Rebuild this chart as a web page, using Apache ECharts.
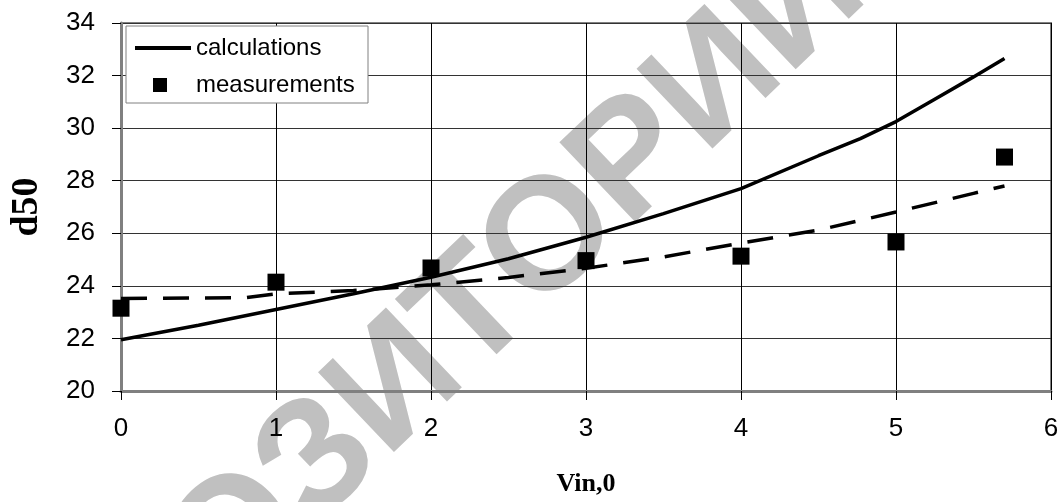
<!DOCTYPE html>
<html>
<head>
<meta charset="utf-8">
<script src="https://cdn.jsdelivr.net/npm/echarts@6/dist/echarts.min.js"></script>
<style>html,body{margin:0;padding:0;background:#fff}#c{width:1062px;height:502px}</style>
</head>
<body>
<div id="c"></div>
<script>
// ---- data ----
const calcX = [0, 0.5, 1, 1.5, 2, 2.5, 3, 3.5, 4, 4.5, 4.77, 5, 5.25, 5.5, 5.7];
const calcY = [21.95, 22.5, 23.1, 23.7, 24.33, 25.03, 25.85, 26.75, 27.7, 28.95, 29.6, 30.25, 31.1, 31.95, 32.65];
const dashX = [0, 0.8, 1, 1.5, 2, 2.5, 3, 3.5, 4, 4.5, 5, 5.5, 5.7];
const dashY = [23.52, 23.55, 23.7, 23.82, 24.04, 24.32, 24.67, 25.1, 25.63, 26.12, 26.81, 27.52, 27.8];
const measX = [0, 1, 2, 3, 4, 5, 5.7];
const measY = [23.15, 24.14, 24.68, 24.96, 25.13, 25.67, 28.9];
const xTicks = { min: 0, max: 6, interval: 1 };
const yTicks = { min: 20, max: 34, interval: 2 };
const legendNames = ['calculations', 'measurements'];
const xName = 'Vin,0';
const yName = 'd50';
const watermark = 'РЕПОЗИТОРИЙ';

const zip = (xs, ys) => xs.map((x, i) => [x, ys[i]]);

const chart = echarts.init(document.getElementById('c'), null, { renderer: 'canvas' });
const axisLabelFont = { fontFamily: 'Liberation Sans', fontSize: 26, color: '#000' };
chart.setOption({
  animation: false,
  backgroundColor: '#fff',
  grid: { left: 121, right: 11, top: 23, bottom: 108, show: true, borderColor: '#808080', borderWidth: 2 },
  xAxis: {
    type: 'value', min: xTicks.min, max: xTicks.max, interval: xTicks.interval,
    name: xName, nameLocation: 'middle', nameGap: 80,
    nameTextStyle: { fontFamily: 'Liberation Serif', fontWeight: 'bold', fontSize: 26, color: '#000' },
    axisLine: { show: true, onZero: false, lineStyle: { color: '#808080', width: 3 } },
    axisTick: { show: true, length: 9, lineStyle: { color: '#000', width: 1 } },
    axisLabel: Object.assign({ margin: 25 }, axisLabelFont),
    splitLine: { show: true, lineStyle: { color: '#000', width: 1 } }
  },
  yAxis: {
    type: 'value', min: yTicks.min, max: yTicks.max, interval: yTicks.interval,
    name: yName, nameLocation: 'middle', nameGap: 75,
    nameTextStyle: { fontFamily: 'Liberation Serif', fontWeight: 'bold', fontSize: 38, color: '#000' },
    axisLine: { show: true, onZero: false, lineStyle: { color: '#808080', width: 3 } },
    axisTick: { show: true, length: 9, lineStyle: { color: '#000', width: 1 } },
    axisLabel: Object.assign({ margin: 26 }, axisLabelFont),
    splitLine: { show: true, lineStyle: { color: '#333', width: 1 } }
  },
  legend: [
    {
      data: [{ name: legendNames[0], icon: 'rect' }], left: 135, top: 36, orient: 'vertical', padding: 0,
      itemWidth: 56, itemHeight: 4, z: 10,
      itemStyle: { color: '#000', opacity: 1 },
      textStyle: { fontFamily: 'Liberation Sans', fontSize: 24, color: '#000' }
    },
    {
      data: [{ name: legendNames[1], icon: 'rect' }], left: 153, top: 73, orient: 'vertical', padding: 0,
      itemWidth: 14, itemHeight: 14, z: 10,
      itemStyle: { color: '#000', opacity: 1 },
      textStyle: { fontFamily: 'Liberation Sans', fontSize: 24, color: '#000', padding: [0, 0, 0, 24] }
    }
  ],
  graphic: [
    {
      type: 'text', x: 398, y: 387, rotation: 43.6 * Math.PI / 180, z: -1, silent: true,
      style: { text: watermark, font: 'bold 160px "Liberation Sans"', fill: '#c0c0c0', align: 'center', verticalAlign: 'middle' }
    },
    {
      type: 'rect', z: 5, silent: true,
      shape: { x: 126, y: 26, width: 242, height: 77 },
      style: { fill: '#fff', stroke: '#808080', lineWidth: 1 }
    }
  ],
  series: [
    {
      name: legendNames[0], type: 'line', data: zip(calcX, calcY), showSymbol: false, symbol: 'none',
      lineStyle: { color: '#000', width: 3.5 }, itemStyle: { color: '#000' }, z: 3
    },
    {
      name: 'trend', type: 'line', data: zip(dashX, dashY), showSymbol: false, symbol: 'none',
      lineStyle: { color: '#000', width: 3.5, type: [26, 16] }, z: 3
    },
    {
      name: legendNames[1], type: 'scatter', data: zip(measX, measY), symbol: 'rect', symbolSize: 17,
      itemStyle: { color: '#000', opacity: 1 }, z: 4
    }
  ]
});
</script>
</body>
</html>
